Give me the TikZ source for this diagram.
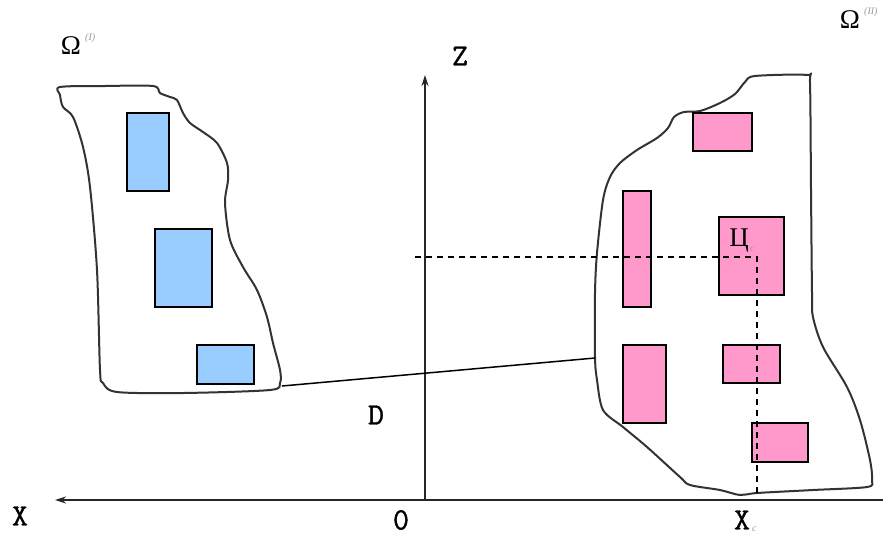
\documentclass[tikz,border=0pt]{standalone}
\usepackage{fontspec}
\setmainfont{Liberation Serif}
\newfontfamily\monob{Latin Modern Mono}[FakeBold=1.2]
\usetikzlibrary{arrows.meta}
\definecolor{bluefill}{HTML}{99CCFF}
\definecolor{pinkfill}{HTML}{FF99CC}
\definecolor{outline}{HTML}{333333}
\begin{document}
\begin{tikzpicture}[x=1pt,y=-1pt,
  blob/.style={draw=outline,line width=2pt,line join=round},
  bluebox/.style={draw=black,fill=bluefill,line width=1.4pt},
  pinkbox/.style={draw=black,fill=pinkfill,line width=1.4pt},
  axis/.style={draw=black!85,line width=1.8pt,-{Stealth[length=11pt,width=7pt]}},
  guide/.style={draw=black,line width=1.2pt,dash pattern=on 6pt off 5pt},
  lbl/.style={font=\monob\fontsize{31}{33}\selectfont,inner sep=0pt,anchor=center},
  glbl/.style={font=\fontsize{27}{29}\selectfont,inner sep=0pt,anchor=center},
  sub/.style={font=\itshape\fontsize{10}{11}\selectfont,text=black!40,inner sep=0pt}]
\useasboundingbox (0,0) rectangle (883,536);
% left region
\draw[blob] plot[smooth cycle,tension=0.5] coordinates {
 (60,87) (105,86) (153,86) (160,93) (170,97) (177,100) (183,113) (190,123) (203,132)
 (217,143) (227,163) (228,180) (225,203) (230,240) (243,267) (257,290) (267,317)
 (273,343) (280,370) (280,383) (270,390) (183,393) (117,392) (103,383) (100,370)
 (97,270) (90,187) (83,147) (73,117) (63,107) (60,95)};
% right region
\draw[blob] plot[smooth cycle,tension=0.5] coordinates {
 (755,76) (807,75) (810,83) (811,190) (812,293) (813,317) (823,347) (847,387)
 (860,420) (870,460) (872,480) (867,487) (813,490) (757,493) (740,495) (720,490)
 (690,485) (680,477) (647,447) (623,427) (603,410) (597,380) (595,357) (595,293)
 (597,253) (603,200) (610,177) (620,163) (637,150) (657,138) (668,128) (674,117)
 (684,112) (700,111) (720,103) (735,94) (745,82)};
% blue boxes
\draw[bluebox] (127,113) rectangle (169,191);
\draw[bluebox] (155,229) rectangle (212,307);
\draw[bluebox] (197,345) rectangle (254,384);
% pink boxes
\draw[pinkbox] (693,113) rectangle (752,151);
\draw[pinkbox] (623,191) rectangle (651,307);
\draw[pinkbox] (719,217) rectangle (784,295);
\draw[pinkbox] (623,345) rectangle (666,423);
\draw[pinkbox] (723,345) rectangle (780,383);
\draw[pinkbox] (752,423) rectangle (808,462);
% axes
\coordinate (O) at (425,500);
\coordinate (Xend) at (55,500);
\coordinate (Xstart) at (883,500);
\coordinate (Zend) at (425,75);
\draw[axis] (Xstart) -- (Xend);
\draw[axis] (O) -- (Zend);
% guides
\coordinate (G0) at (415,257);
\coordinate (C) at (757,257);
\coordinate (Cx) at (757,493);
\draw[guide] (G0) -- (C) -- (Cx);
% connector
\coordinate (L) at (282,386);
\coordinate (R) at (595,358);
\draw[draw=black,line width=1.5pt] (L) -- (R);
% labels
\node[lbl] (zl) at (460,56) {Z};
\node[lbl] (xl) at (20,516) {X};
\node[lbl] (ol) at (401,520) {0};
\node[lbl] (dl) at (376,415) {D};
\node[lbl] (xc) at (742,520) {X};
\node[sub,anchor=west] (xcs) at (752,529) {c};
\node[glbl] (cl) at (739,241) {Ц};
\node[sub,anchor=west] (cls) at (750,249) {c};
\node[glbl] (om1) at (71,46) {Ω};
\node[sub,anchor=west] (om1s) at (85,38) {(I)};
\node[glbl] (om2) at (850,20) {Ω};
\node[sub,anchor=west] (om2s) at (864,12) {(II)};
\end{tikzpicture}
\end{document}
